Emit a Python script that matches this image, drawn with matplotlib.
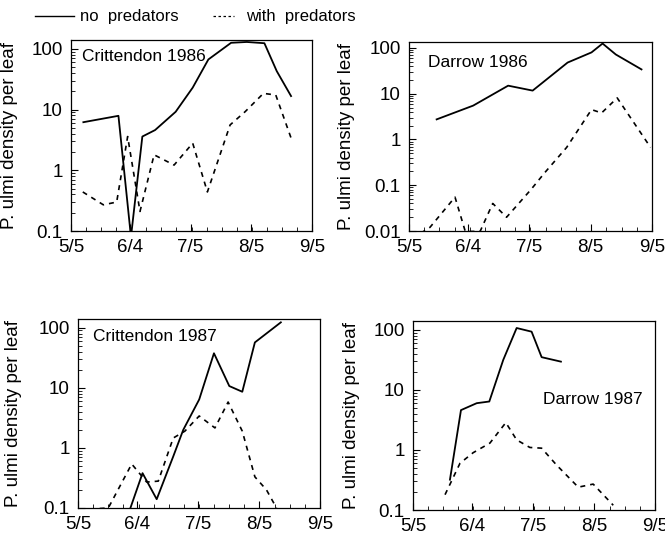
import numpy as np
import matplotlib.pyplot as plt
from matplotlib.lines import Line2D
from matplotlib.ticker import FixedLocator, FuncFormatter, LogLocator, NullFormatter

plt.rcParams['font.family'] = ['Liberation Sans', 'DejaVu Sans']
plt.rcParams['font.size'] = 13.5

# days counted from 5/5
month_ticks = [0, 30, 61, 92, 123]
month_labels = ['5/5', '6/4', '7/5', '8/5', '9/5']

# Crittendon 1986
crit86_no_day = [6.3, 24.2, 30.6, 36.4, 42.9, 53.4, 62.1, 70.1, 81.7, 89.7, 98.7, 105.0, 112.3]
crit86_no_val = [6.2, 7.9, 0.08, 3.6, 4.6, 9.2, 23, 67, 126, 130, 124, 43, 16.7]
crit86_pred_day = [6.0, 16.5, 23.3, 28.9, 35.2, 42.4, 52.6, 62.1, 69.6, 81.2, 88.8, 98.2, 104.5, 112.6]
crit86_pred_val = [0.44, 0.27, 0.30, 3.6, 0.21, 1.8, 1.22, 2.8, 0.44, 5.6, 9.2, 18.5, 17.4, 3.2]

# Darrow 1986
dar86_no_day = [14.0, 32.5, 50.2, 62.6, 80.3, 92.4, 98.0, 104.7, 117.7]
dar86_no_val = [2.75, 5.5, 15, 11.7, 48, 80, 125, 72, 34]
dar86_pred_day = [6.0, 10.6, 23.3, 28.5, 36.0, 42.4, 49.4, 61.7, 68.8, 79.8, 92.4, 97.5, 105.4, 122.3]
dar86_pred_val = [0.009, 0.012, 0.055, 0.0098, 0.0098, 0.04, 0.02, 0.08, 0.19, 0.67, 4.5, 3.8, 8.1, 0.67]

# Crittendon 1987
crit87_no_day = [26.4, 32.8, 40.0, 48.4, 53.5, 61.6, 69.1, 76.9, 83.5, 89.9, 103.1]
crit87_no_val = [0.095, 0.38, 0.14, 0.72, 2.0, 6.4, 37.6, 10.7, 8.6, 57, 123]
crit87_pred_day = [11.0, 15.4, 27.3, 34.9, 40.8, 48.4, 54.3, 61.6, 69.6, 76.3, 83.5, 89.9, 95.8, 100.9]
crit87_pred_val = [0.098, 0.1, 0.54, 0.27, 0.28, 1.46, 1.9, 3.4, 2.15, 5.8, 1.9, 0.33, 0.2, 0.1]

# Darrow 1987
dar87_no_day = [18.8, 24.4, 32.4, 38.8, 45.9, 52.7, 60.3, 65.4, 75.2]
dar87_no_val = [0.32, 4.6, 6.0, 6.4, 31.6, 107, 93, 35, 29.5]
dar87_pred_day = [16.3, 23.9, 30.6, 39.1, 47.2, 52.7, 59.4, 65.4, 73.0, 84.0, 91.6, 101.8]
dar87_pred_val = [0.18, 0.6, 0.9, 1.3, 2.85, 1.47, 1.1, 1.07, 0.56, 0.24, 0.27, 0.12]

panels = [
    ([0.1068, 0.5682, 0.3624, 0.357], crit86_no_day, crit86_no_val, crit86_pred_day, crit86_pred_val,
     'Crittendon 1986', (0.046, 0.916), (0.1, 140), [0.1, 1, 10, 100], -0.22),
    ([0.615, 0.5682, 0.3654, 0.3533], dar86_no_day, dar86_no_val, dar86_pred_day, dar86_pred_val,
     'Darrow 1986', (0.078, 0.889), (0.01, 135), [0.01, 0.1, 1, 10, 100], -0.222),
    ([0.1173, 0.0505, 0.3639, 0.3533], crit87_no_day, crit87_no_val, crit87_pred_day, crit87_pred_val,
     'Crittendon 1987', (0.061, 0.905), (0.1, 140), [0.1, 1, 10, 100], -0.231),
    ([0.621, 0.0467, 0.3639, 0.3533], dar87_no_day, dar87_no_val, dar87_pred_day, dar87_pred_val,
     'Darrow 1987', (0.537, 0.587), (0.1, 140), [0.1, 1, 10, 100], -0.219),
]

fig = plt.figure(figsize=(6.65, 5.35), dpi=100)

for rect, xd, yd, xp, yp, title, tpos, ylim, yticks, labx in panels:
    ax = fig.add_axes(rect)
    ax.plot(xd, yd, color='black', linewidth=1.3)
    ax.plot(xp, yp, color='black', linewidth=1.2, linestyle=(0, (3, 3)))
    ax.set_yscale('log')
    ax.set_ylim(*ylim)
    ax.set_xlim(0, 123)
    ax.yaxis.set_major_locator(FixedLocator(yticks))
    ax.yaxis.set_major_formatter(FuncFormatter(lambda v, p: '%g' % v))
    ax.yaxis.set_minor_locator(LogLocator(base=10, subs=np.arange(2, 10)))
    ax.yaxis.set_minor_formatter(NullFormatter())
    ax.set_xticks(month_ticks)
    ax.set_xticklabels(month_labels)
    ax.set_xticks(np.linspace(0, 123, 17), minor=True)
    ax.tick_params(which='both', direction='in', right=False, top=False)
    ax.tick_params(which='major', length=5, width=0.8, pad=6, labelsize=13.5)
    ax.tick_params(which='minor', length=3, width=0.6)
    for s in ax.spines.values():
        s.set_linewidth(0.9)
    ax.text(tpos[0], tpos[1], title, transform=ax.transAxes, ha='left', va='center', fontsize=12.5)
    ax.set_ylabel('P. ulmi density per leaf', fontsize=13.5)
    ax.yaxis.set_label_coords(labx, 0.5)

# legend along the top
fig.add_artist(Line2D([35 / 665, 74 / 665], [1 - 16 / 535] * 2, color='black', linewidth=1.0))
fig.text(80 / 665, 1 - 16 / 535, 'no  predators', ha='left', va='center', fontsize=12)
fig.add_artist(Line2D([213 / 665, 234 / 665], [1 - 16 / 535] * 2, color='black', linewidth=0.9,
                      linestyle=(0, (2, 2))))
fig.text(246 / 665, 1 - 16 / 535, 'with  predators', ha='left', va='center', fontsize=12)

fig.savefig('out.png', dpi=100)
